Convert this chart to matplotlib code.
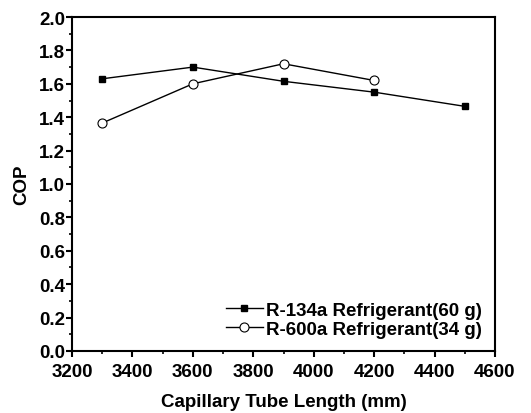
import numpy as np
import matplotlib
matplotlib.use('Agg')
import matplotlib.pyplot as plt
from matplotlib.ticker import MultipleLocator

plt.rcParams['font.family'] = ['Liberation Sans', 'DejaVu Sans']
plt.rcParams['font.weight'] = 'bold'

# capillary tube length (mm) and COP
len_134a = [3300, 3600, 3900, 4200, 4500]
cop_134a = [1.63, 1.70, 1.615, 1.55, 1.465]
len_600a = [3300, 3600, 3900, 4200]
cop_600a = [1.365, 1.60, 1.72, 1.62]

fig = plt.figure(figsize=(5.31, 4.14), dpi=100)
ax = fig.add_axes([0.1356, 0.1498, 0.7966, 0.8067])

ax.plot(len_134a, cop_134a, '-s', color='black', lw=1, ms=5,
        label='R-134a Refrigerant(60 g)')
ax.plot(len_600a, cop_600a, '-o', color='black', lw=1, ms=6.5,
        mfc='white', mec='black', mew=0.8, label='R-600a Refrigerant(34 g)')

ax.set_xlim(3200, 4600)
ax.set_ylim(0, 2.0)
ax.xaxis.set_major_locator(MultipleLocator(200))
ax.xaxis.set_minor_locator(MultipleLocator(100))
ax.yaxis.set_major_locator(MultipleLocator(0.2))
ax.yaxis.set_minor_locator(MultipleLocator(0.1))
ax.yaxis.set_major_formatter(matplotlib.ticker.FormatStrFormatter('%.1f'))
ax.tick_params(which='major', direction='out', length=4, width=1.5, labelsize=13.5, pad=1)
ax.tick_params(axis='x', which='major', pad=5)
ax.tick_params(which='minor', direction='out', length=2.5, width=1.2)
for s in ax.spines.values():
    s.set_linewidth(1.5)

ax.set_xlabel('Capillary Tube Length (mm)', fontsize=13.5, fontweight='bold', labelpad=9)
ax.set_ylabel('COP', fontsize=13.5, fontweight='bold', labelpad=6)

leg = ax.legend(loc='lower right', frameon=False, fontsize=13.5, handlelength=2.0,
                handletextpad=0.15, labelspacing=0.1, borderaxespad=0.3)

fig.savefig('out.png', dpi=100)
